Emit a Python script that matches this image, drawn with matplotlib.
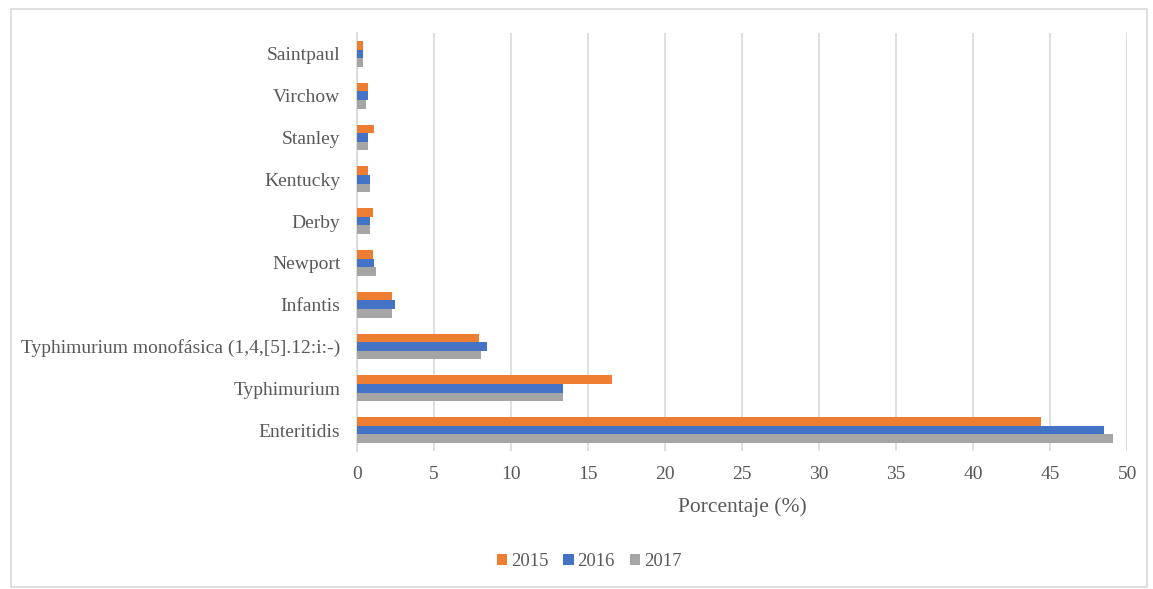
import numpy as np
import matplotlib
matplotlib.use('Agg')
import matplotlib.pyplot as plt
from matplotlib.patches import Rectangle

# Serotipos (de abajo hacia arriba)
categories = ['Enteritidis', 'Typhimurium', 'Typhimurium monofásica (1,4,[5].12:i:-)',
              'Infantis', 'Newport', 'Derby', 'Kentucky', 'Stanley', 'Virchow', 'Saintpaul']
years = ['2015', '2016', '2017']
vals_2015 = [44.4, 16.55, 7.9, 2.3, 1.04, 1.04, 0.69, 1.1, 0.69, 0.36]
vals_2016 = [48.5, 13.4, 8.44, 2.44, 1.1, 0.84, 0.84, 0.69, 0.69, 0.36]
vals_2017 = [49.1, 13.4, 8.03, 2.3, 1.25, 0.84, 0.84, 0.69, 0.6, 0.36]
x_ticks = [0, 5, 10, 15, 20, 25, 30, 35, 40, 45, 50]

colors = ['#ED7D31', '#4472C4', '#A5A5A5']
text_color = '#595959'

plt.rcParams['font.family'] = ['Liberation Serif', 'DejaVu Serif']

fig = plt.figure(figsize=(11.53, 5.89), dpi=100)
ax = fig.add_axes([0.3096, 0.2343, 0.668, 0.7097])

# Marco del gráfico
fig.patches.append(Rectangle((0.0095, 0.004), 0.985, 0.981, transform=fig.transFigure,
                             fill=False, edgecolor='#d9d9d9', linewidth=1.2))

y = np.arange(len(categories))
h = 0.207
for k, (vals, lab) in enumerate(zip([vals_2015, vals_2016, vals_2017], years)):
    ax.barh(y + h * (1 - k), vals, height=h, color=colors[k], label=lab, zorder=3)

ax.set_xlim(0, 50)
ax.set_ylim(-0.5, len(categories) - 0.5)
ax.set_xticks(x_ticks)
ax.set_yticks(y)
ax.set_yticklabels(categories)
ax.tick_params(axis='both', length=0, colors=text_color, labelsize=14)
ax.tick_params(axis='y', pad=12)
ax.tick_params(axis='x', pad=11)
ax.grid(axis='x', color='#d9d9d9', linewidth=1.2, zorder=0)
for s in ['top', 'right', 'bottom']:
    ax.spines[s].set_visible(False)
ax.spines['left'].set_color('#d9d9d9')
ax.spines['left'].set_linewidth(1.2)

ax.set_xlabel('Porcentaje (%)', color=text_color, fontsize=15.5, labelpad=10)

leg = fig.legend(loc='center', bbox_to_anchor=(0.511, 0.047), ncol=3, frameon=False,
                 fontsize=13.5, handlelength=0.55, handleheight=0.55, handletextpad=0.2,
                 columnspacing=0.8)
for t in leg.get_texts():
    t.set_color(text_color)

fig.savefig('out.png', dpi=100)
